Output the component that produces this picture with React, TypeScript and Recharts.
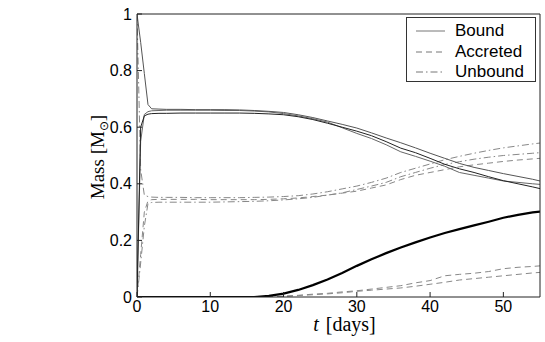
import { LineChart, Line, XAxis, YAxis, Legend, Label } from 'recharts';

// time in days
const t = [0, 0.5, 1, 1.5, 2, 3, 4, 6, 8, 10, 12, 14, 16, 18, 20, 22, 24, 26, 28, 30, 32, 34, 36, 38, 40, 42, 44, 46, 48, 50, 52, 54, 55];

// bound mass (solid)
const boundA = [1.0, 0.9, 0.79, 0.68, 0.665, 0.664, 0.663, 0.663, 0.662, 0.662, 0.662, 0.661, 0.659, 0.656, 0.652, 0.644, 0.634, 0.622, 0.61, 0.597, 0.58, 0.562, 0.545, 0.527, 0.508, 0.49, 0.472, 0.458, 0.447, 0.436, 0.426, 0.416, 0.41];
const boundB = [0.0, 0.6, 0.64, 0.646, 0.648, 0.649, 0.649, 0.65, 0.65, 0.65, 0.65, 0.65, 0.649, 0.647, 0.644, 0.637, 0.627, 0.614, 0.6, 0.586, 0.57, 0.549, 0.526, 0.51, 0.49, 0.469, 0.453, 0.44, 0.425, 0.411, 0.4, 0.389, 0.383];
const boundC = [0.0, 0.55, 0.645, 0.655, 0.658, 0.659, 0.66, 0.66, 0.66, 0.66, 0.659, 0.659, 0.657, 0.654, 0.648, 0.64, 0.63, 0.618, 0.598, 0.578, 0.56, 0.538, 0.513, 0.497, 0.48, 0.462, 0.44, 0.43, 0.42, 0.41, 0.405, 0.4, 0.398];

// unbound mass (dash-dot)
const unboundA = [0.0, 0.12, 0.25, 0.33, 0.334, 0.335, 0.335, 0.335, 0.335, 0.335, 0.336, 0.337, 0.338, 0.34, 0.343, 0.347, 0.352, 0.36, 0.368, 0.38, 0.392, 0.405, 0.425, 0.44, 0.455, 0.468, 0.478, 0.487, 0.494, 0.5, 0.504, 0.508, 0.51];
const unboundB = [1.0, 0.45, 0.36, 0.355, 0.353, 0.352, 0.352, 0.352, 0.351, 0.351, 0.351, 0.351, 0.352, 0.353, 0.355, 0.358, 0.364, 0.372, 0.382, 0.392, 0.405, 0.42, 0.44, 0.455, 0.47, 0.485, 0.497, 0.508, 0.518, 0.527, 0.534, 0.541, 0.544];

// accreted mass (dashed)
const accretedA = [0.0, 0.15, 0.3, 0.34, 0.344, 0.345, 0.345, 0.345, 0.345, 0.344, 0.344, 0.344, 0.344, 0.345, 0.347, 0.35, 0.355, 0.36, 0.367, 0.374, 0.385, 0.396, 0.415, 0.43, 0.44, 0.45, 0.46, 0.467, 0.473, 0.479, 0.484, 0.488, 0.49];
const accretedB = [0, 0, 0, 0, 0, 0, 0, 0, 0, 0, 0, 0, 0, 0.001, 0.003, 0.006, 0.01, 0.013, 0.018, 0.022, 0.028, 0.034, 0.04, 0.05, 0.058, 0.075, 0.08, 0.084, 0.09, 0.1, 0.105, 0.108, 0.11];
const accretedC = [0, 0, 0, 0, 0, 0, 0, 0, 0, 0, 0, 0, 0, 0.001, 0.002, 0.005, 0.008, 0.011, 0.015, 0.02, 0.024, 0.028, 0.032, 0.038, 0.045, 0.052, 0.06, 0.065, 0.07, 0.075, 0.08, 0.085, 0.087];

// thick black curve
const companion = [0, 0, 0, 0, 0, 0, 0, 0, 0, 0, 0, 0, 0, 0.004, 0.012, 0.025, 0.042, 0.062, 0.085, 0.11, 0.133, 0.155, 0.175, 0.193, 0.21, 0.226, 0.24, 0.253, 0.266, 0.28, 0.29, 0.299, 0.302];

const xTicks = [0, 10, 20, 30, 40, 50];
const yTicks = [0, 0.2, 0.4, 0.6, 0.8, 1];
const legendItems = [
  { name: 'Bound', dash: undefined },
  { name: 'Accreted', dash: '6 4' },
  { name: 'Unbound', dash: '7 3 1.5 3' },
];

const data = t.map((v, i) => ({
  t: v,
  boundA: boundA[i],
  boundB: boundB[i],
  boundC: boundC[i],
  unboundA: unboundA[i],
  unboundB: unboundB[i],
  accretedA: accretedA[i],
  accretedB: accretedB[i],
  accretedC: accretedC[i],
  companion: companion[i],
}));

const sans = 'Liberation Sans, Arial, sans-serif';
const serif = 'Liberation Serif, Times New Roman, serif';
const tickStyle = { fill: '#000', fontSize: 16, fontFamily: sans };

const XTitle = ({ viewBox }: any) => (
  <text x={viewBox.x + viewBox.width / 2 + 6} y={viewBox.y + 34} textAnchor="middle" fontFamily={serif} fontSize={20} fill="#000" wordSpacing={2}>
    <tspan fontStyle="italic">t</tspan> [days]
  </text>
);

const YTitle = () => (
  <text transform="translate(104,157) rotate(-90)" textAnchor="middle" fontFamily={serif} fontSize={19} fill="#000">
    Mass [M<tspan fontSize={12} dy={4}>⊙</tspan><tspan dy={-4}>]</tspan>
  </text>
);

const LegendBox = () => (
  <div style={{ border: '1px solid #333', background: '#fff', width: 130, height: 65, boxSizing: 'border-box', paddingTop: 3 }}>
    {legendItems.map((it) => (
      <div key={it.name} style={{ display: 'flex', alignItems: 'center', height: 20.5 }}>
        <svg width={48} height={10} style={{ flex: 'none' }}>
          <line x1={9} x2={38} y1={5} y2={5} stroke="#777" strokeWidth={1} strokeDasharray={it.dash} />
        </svg>
        <span style={{ fontFamily: sans, fontSize: 17, color: '#000', lineHeight: '20px' }}>{it.name}</span>
      </div>
    ))}
  </div>
);

export default function App() {
  return (
    <div style={{ position: 'absolute', left: 0, top: 0, width: 545, height: 342, background: '#fff' }}>
      <LineChart width={545} height={342} data={data} margin={{ top: 0, right: 0, bottom: 0, left: 0 }}>
        <XAxis
          dataKey="t"
          type="number"
          domain={[0, 55]}
          ticks={xTicks}
          allowDataOverflow
          height={45}
          stroke="#222"
          tickSize={-5}
          tickMargin={9}
          tick={tickStyle}
        >
          <Label content={<XTitle />} />
        </XAxis>
        <XAxis
          xAxisId="top"
          orientation="top"
          type="number"
          domain={[0, 55]}
          ticks={xTicks}
          allowDataOverflow
          height={14}
          stroke="#222"
          tickSize={-5}
          tick={false}
        />
        <YAxis
          type="number"
          domain={[0, 1]}
          ticks={yTicks}
          allowDataOverflow
          width={137}
          stroke="#222"
          tickSize={-5}
          tickMargin={10}
          tick={tickStyle}
        >
          <Label content={<YTitle />} />
        </YAxis>
        <YAxis
          yAxisId="right"
          orientation="right"
          type="number"
          domain={[0, 1]}
          ticks={yTicks}
          allowDataOverflow
          width={5}
          stroke="#222"
          tickSize={-5}
          tick={false}
        />
        <Legend
          content={<LegendBox />}
          wrapperStyle={{ position: 'absolute', left: 406, top: 17, width: 0, height: 0, overflow: 'visible' }}
        />
        <Line dataKey="accretedB" stroke="#888" strokeWidth={1} strokeDasharray="6 4" dot={false} isAnimationActive={false} />
        <Line dataKey="accretedC" stroke="#888" strokeWidth={1} strokeDasharray="6 4" dot={false} isAnimationActive={false} />
        <Line dataKey="accretedA" stroke="#888" strokeWidth={1} strokeDasharray="6 4" dot={false} isAnimationActive={false} />
        <Line dataKey="unboundA" stroke="#888" strokeWidth={1} strokeDasharray="7 3 1.5 3" dot={false} isAnimationActive={false} />
        <Line dataKey="unboundB" stroke="#888" strokeWidth={1} strokeDasharray="7 3 1.5 3" dot={false} isAnimationActive={false} />
        <Line dataKey="boundC" stroke="#666" strokeWidth={1} dot={false} isAnimationActive={false} />
        <Line dataKey="boundA" stroke="#555" strokeWidth={1} dot={false} isAnimationActive={false} />
        <Line dataKey="boundB" stroke="#222" strokeWidth={1} dot={false} isAnimationActive={false} />
        <Line dataKey="companion" stroke="#000" strokeWidth={2.2} dot={false} isAnimationActive={false} />
      </LineChart>
    </div>
  );
}
